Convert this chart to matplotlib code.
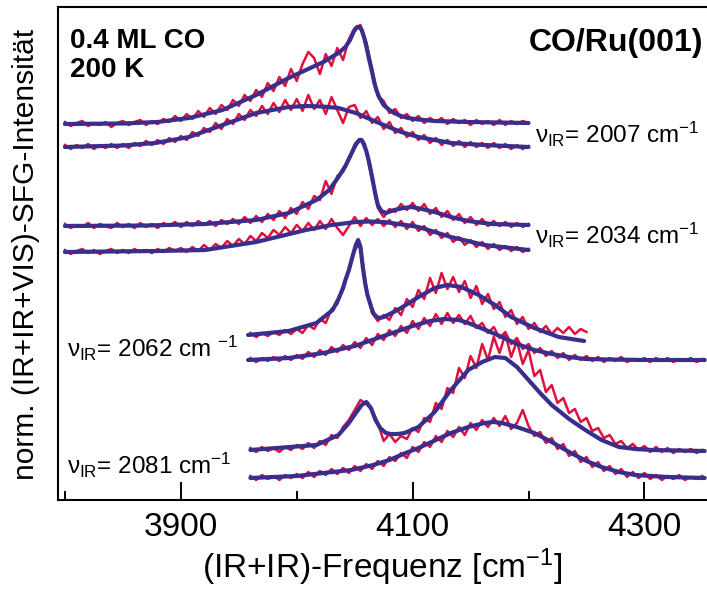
import matplotlib
matplotlib.use("Agg")
import matplotlib.pyplot as plt
import numpy as np

plt.rcParams["font.family"] = ["Liberation Sans", "DejaVu Sans"]
plt.rcParams["mathtext.fontset"] = "custom"
plt.rcParams["mathtext.rm"] = "Liberation Sans"
plt.rcParams["mathtext.it"] = "Liberation Sans"
plt.rcParams["mathtext.bf"] = "Liberation Sans:bold"

RED = "#e0103c"
BLUE = "#3a2e8c"

# axis
FREQ_TICKS = [3900, 4100, 4300]
FREQ_MINOR = [3800, 4000, 4200]
STEP = 5  # cm^-1 sampling of the measured traces

# IR pump frequencies (one pair of spectra each)
PUMP = ["2007", "2034", "2062", "2081"]

# vertical offsets of each spectrum (upper / lower of each pair)
OFFSET_TOP = [376, 274, 165, 50]
OFFSET_BOT = [353, 248, 140, 22]

# ---- measured spectra (start, end in cm^-1, values every STEP) ----
RAW_2007_TOP_RANGE = (3800, 4200)
RAW_2007_TOP = [2, -2, 1, 3, -2, 1, -1, 2, -3, 1,
                3, -1, 2, 4, -1, 3, 0, 5, 2, 8,
                3, 10, 5, 13, 7, 16, 10, 19, 14, 24,
                18, 29, 23, 34, 27, 41, 33, 47, 38, 55,
                43, 60, 72, 66, 50, 70, 58, 76, 64, 85,
                96, 99, 82, 55, 28, 23, 11, 15, 6, 10,
                3, 8, 1, 6, 2, 6, 0, 5, 1, 4,
                -1, 4, 0, 3, -1, 4, -1, 3, 0, 3, 1]

RAW_2007_BOT_RANGE = (3800, 4200)
RAW_2007_BOT = [2, -2, 2, -1, 3, -2, 2, -1, 3, -1,
                3, -1, 4, 1, 6, 2, 7, 3, 9, 5,
                11, 7, 15, 11, 19, 15, 24, 18, 28, 23,
                33, 27, 37, 31, 41, 33, 44, 35, 47, 37,
                48, 36, 52, 38, 47, 33, 50, 37, 24, 40,
                42, 29, 36, 24, 30, 18, 25, 14, 19, 10,
                15, 7, 12, 4, 9, 2, 7, 1, 6, 0,
                5, 0, 4, -1, 4, -1, 3, -2, 2, -2, 1]

RAW_2034_TOP_RANGE = (3800, 4200)
RAW_2034_TOP = [2, -2, 1, -1, 3, -2, 2, 0, -2, 3,
                -1, 2, -2, 3, -1, 2, -2, 3, 0, 4,
                -1, 4, 0, 5, 1, 5, 0, 6, 2, 7,
                2, 9, 3, 10, 4, 12, 6, 15, 8, 18,
                12, 24, 17, 30, 26, 45, 32, 50, 54, 66,
                78, 87, 74, 46, 18, 9, 17, 14, 22, 16,
                23, 15, 22, 12, 18, 9, 15, 6, 12, 3,
                9, 1, 7, 0, 5, 0, 4, -1, 3, -1, 2]

RAW_2034_BOT_RANGE = (3800, 4200)
RAW_2034_BOT = [2, -2, 1, 3, -1, 2, -2, 1, 3, -1,
                2, -1, 3, 0, 2, -1, 3, 0, 4, 1,
                4, 0, 5, 1, 7, 2, 8, 4, 11, 6,
                13, 8, 16, 11, 19, 14, 22, 17, 25, 19,
                27, 21, 29, 22, 31, 23, 33, 24, 17, 26,
                35, 26, 34, 27, 33, 26, 32, 25, 31, 23,
                30, 21, 26, 17, 22, 14, 19, 10, 15, 7,
                12, 5, 10, 3, 8, 2, 6, 1, 5, 0, 3]

RAW_2062_TOP_RANGE = (3960, 4250)
RAW_2062_TOP = [2, -2, 2, -1, 3, 0, 5, 1, 6, 2,
                10, 6, 16, 12, 26, 31, 49, 64, 86, 90,
                46, 22, 14, 20, 15, 27, 20, 36, 28,
                45, 36, 57, 42, 62, 46, 58, 43, 54, 37,
                49, 31, 41, 26, 33, 18, 25, 11, 18, 6,
                12, 3, 9, 1, 7, 2, 8, 1, 6, 3]

RAW_2062_BOT_RANGE = (3960, 4350)
RAW_2062_BOT = [2, -2, 2, -1, 3, -1, 4, 0, 5, 1,
                8, 3, 10, 5, 13, 8, 15, 10, 18, 12,
                22, 15, 26, 20, 30, 24, 34, 27, 39, 31,
                42, 34, 46, 36, 47, 37, 45, 36, 44, 32,
                37, 27, 33, 22, 28, 16, 22, 11, 16, 7,
                12, 4, 9, 2, 7, 0, 5, 0, 4, -1,
                3, -2, 2, -1, 3, -2, 1, -1, 2, -2,
                2, -1, 2, -2, 1, -1, 2, -2, 1]

RAW_2081_TOP_RANGE = (3960, 4350)
RAW_2081_TOP = [2, -2, 3, -1, 2, -2, 3, 0, 5, 1,
                7, 2, 9, 5, 15, 12, 23, 30, 40, 50,
                46, 40, 27, 9, 16, 8, 14, 11, 22, 18,
                32, 28, 47, 41, 62, 57, 82, 72, 94, 82,
                106, 90, 113, 97, 116, 93, 109, 86, 100, 74,
                80, 58, 65, 47, 52, 37, 41, 28, 32, 19,
                22, 12, 15, 6, 9, 2, 6, 0, 4, -2,
                3, -2, 2, -3, 1, -2, 1, -3, 0]

RAW_2081_BOT_RANGE = (3960, 4350)
RAW_2081_BOT = [2, -2, 3, -1, 2, -2, 3, 0, 4, 0,
                6, 1, 7, 3, 9, 4, 10, 5, 12, 7,
                14, 9, 17, 12, 21, 17, 25, 20, 31, 26,
                36, 31, 42, 36, 47, 41, 51, 43, 55, 48,
                58, 51, 60, 52, 62, 49, 55, 68, 52, 42,
                46, 35, 40, 29, 34, 22, 27, 16, 21, 11,
                16, 7, 12, 4, 9, 1, 6, 0, 5, -1,
                3, -2, 2, -1, 3, -2, 1, -1, 2]

# ---- fitted curves ----
FIT_2007_TOP_X = [3800, 3850, 3880, 3907, 3936, 3965, 3993, 4023, 4036, 4042,
                  4046, 4049, 4052, 4054, 4056, 4058, 4060, 4062, 4065, 4067,
                  4069, 4071, 4075, 4080, 4084, 4090, 4096, 4105, 4119, 4148, 4200]
FIT_2007_TOP_Y = [0, 0.5, 2, 6, 14, 29, 46, 62, 71, 77,
                  84, 92, 97, 97, 94, 87, 78, 67, 52, 41,
                  33, 27, 19, 14, 11, 8, 6, 4.5, 3, 2, 1]

FIT_2007_BOT_X = [3800, 3850, 3878, 3907, 3936, 3965, 3993, 4008, 4022, 4036,
                  4051, 4063, 4075, 4090, 4105, 4133, 4162, 4200]
FIT_2007_BOT_Y = [0, 1.5, 4, 10, 22, 34, 40, 41, 40.5, 39,
                  34, 28, 22, 15, 10, 4, 2, 0]

FIT_2034_TOP_X = [3800, 3870, 3921, 3965, 3993, 4017, 4028, 4036, 4042, 4047,
                  4051, 4054, 4056, 4058, 4060, 4062, 4064, 4066, 4068, 4070,
                  4073, 4077, 4084, 4092, 4099, 4108, 4119, 4133, 4148, 4168, 4200]
FIT_2034_TOP_Y = [0, 0.5, 2, 6, 13, 26, 36, 49, 60, 72,
                  82, 86, 86, 82, 75, 66, 55, 43, 31, 21,
                  15, 13, 16, 18, 19, 17, 14, 9, 5, 2, 1]

FIT_2034_BOT_X = [3800, 3880, 3921, 3965, 4008, 4030, 4051, 4063, 4075, 4094,
                  4105, 4133, 4162, 4200]
FIT_2034_BOT_Y = [0, 1, 2, 10, 22, 27, 30, 30.5, 30, 27,
                  25, 15, 7, 2]

FIT_2062_TOP_X = [3958, 3993, 4017, 4031, 4036, 4040, 4042, 4045, 4048, 4051,
                  4053, 4055, 4057, 4059, 4061, 4064, 4066, 4069, 4072, 4075,
                  4082, 4090, 4105, 4119, 4130, 4142, 4157, 4171, 4185, 4205,
                  4226, 4248]
FIT_2062_TOP_Y = [0, 4, 12, 25, 36, 47, 55, 65, 78, 90,
                  95, 88, 68, 52, 40, 29, 22, 18, 17, 18,
                  22, 27, 38, 47, 50, 48, 40, 30, 18, 7,
                  -2, -6]

FIT_2062_BOT_X = [3958, 3993, 4023, 4050, 4080, 4100, 4115, 4127, 4140, 4148,
                  4163, 4177, 4190, 4205, 4220, 4235, 4249, 4270, 4300, 4352]
FIT_2062_BOT_Y = [0, 2, 7, 14, 26, 34, 39, 41, 40, 37,
                  30, 23, 16, 10, 6, 3, 1, 0.5, 0, 0]

FIT_2081_TOP_X = [3960, 4017, 4036, 4045, 4051, 4056, 4060, 4064, 4068, 4072,
                  4077, 4081, 4087, 4093, 4105, 4119, 4133, 4148, 4160, 4171,
                  4180, 4190, 4200, 4210, 4220, 4235, 4249, 4263, 4278, 4292,
                  4307, 4352]
FIT_2081_TOP_Y = [0, 5, 15, 27, 37, 45, 48, 42, 30, 22,
                  17, 16, 16, 17, 23, 38, 60, 80, 88, 93,
                  92, 83, 70, 57, 45, 31, 20, 10, 3, 1,
                  0, -1]

FIT_2081_BOT_X = [3960, 4000, 4023, 4047, 4066, 4080, 4094, 4105, 4120, 4133,
                  4148, 4162, 4170, 4177, 4190, 4205, 4220, 4235, 4250, 4263,
                  4278, 4292, 4320, 4352]
FIT_2081_BOT_Y = [0, 2, 5, 8, 13, 18, 25, 30, 38, 45,
                  51, 55, 56, 55, 51, 45, 36, 26, 17, 11,
                  6, 3, 1, 0]

# label anchor (frequency, baseline height) for the pump labels
LABEL_X = [4206, 4206, 3802, 3802]
LABEL_Y = [357, 256, 143, 26]


def main() -> None:
    raw_top = [(RAW_2007_TOP_RANGE, RAW_2007_TOP), (RAW_2034_TOP_RANGE, RAW_2034_TOP),
               (RAW_2062_TOP_RANGE, RAW_2062_TOP), (RAW_2081_TOP_RANGE, RAW_2081_TOP)]
    raw_bot = [(RAW_2007_BOT_RANGE, RAW_2007_BOT), (RAW_2034_BOT_RANGE, RAW_2034_BOT),
               (RAW_2062_BOT_RANGE, RAW_2062_BOT), (RAW_2081_BOT_RANGE, RAW_2081_BOT)]
    fit_top = [(FIT_2007_TOP_X, FIT_2007_TOP_Y), (FIT_2034_TOP_X, FIT_2034_TOP_Y),
               (FIT_2062_TOP_X, FIT_2062_TOP_Y), (FIT_2081_TOP_X, FIT_2081_TOP_Y)]
    fit_bot = [(FIT_2007_BOT_X, FIT_2007_BOT_Y), (FIT_2034_BOT_X, FIT_2034_BOT_Y),
               (FIT_2062_BOT_X, FIT_2062_BOT_Y), (FIT_2081_BOT_X, FIT_2081_BOT_Y)]

    fig = plt.figure(figsize=(7.07, 5.92), dpi=100)
    ax = fig.add_axes([58 / 707, 92 / 592, 649 / 707, 493 / 592])

    for i in range(len(PUMP)):
        for (rng, vals), (fx, fy), off in ((raw_top[i], fit_top[i], OFFSET_TOP[i]),
                                           (raw_bot[i], fit_bot[i], OFFSET_BOT[i])):
            x = np.arange(rng[0], rng[1] + 1, STEP)
            ax.plot(x, np.array(vals) + off, color=RED, lw=1.8, zorder=2)
            ax.plot(fx, np.array(fy) + off, color=BLUE, lw=3.0, zorder=3,
                    solid_capstyle="round", solid_joinstyle="round")
        sp = " " if i == 2 else ""
        ax.text(LABEL_X[i], LABEL_Y[i], r"$\nu_{IR}$= " + PUMP[i] + " cm" + sp + r"$^{-1}$",
                fontsize=17.5, ha="left", va="baseline")

    ax.text(3804, 472, "0.4 ML CO\n200 K", fontsize=20, fontweight="bold",
            ha="left", va="top", linespacing=1.15)
    ax.text(4351, 472, "CO/Ru(001)", fontsize=23, fontweight="bold",
            ha="right", va="top")

    ax.set_xlim(3794, 4354)
    ax.set_ylim(0, 493)
    ax.set_xticks(FREQ_TICKS)
    ax.set_xticks(FREQ_MINOR, minor=True)
    ax.set_yticks([])
    ax.tick_params(axis="x", which="major", direction="in", length=13, width=1.4,
                   labelsize=24, pad=9)
    ax.tick_params(axis="x", which="minor", direction="in", length=6.5, width=1.4)
    for side in ("left", "bottom", "top"):
        ax.spines[side].set_linewidth(1.5)
    ax.spines["right"].set_visible(False)

    ax.set_xlabel(r"(IR+IR)-Frequenz [cm$^{-1}$]", fontsize=24, labelpad=2)
    fig.text(26 / 707, 1 - 254 / 592, "norm. (IR+IR+VIS)-SFG-Intensität",
             rotation=90, ha="center", va="center", fontsize=21.5)

    fig.savefig("out.png", dpi=100)
    plt.close(fig)


if __name__ == "__main__":
    main()
